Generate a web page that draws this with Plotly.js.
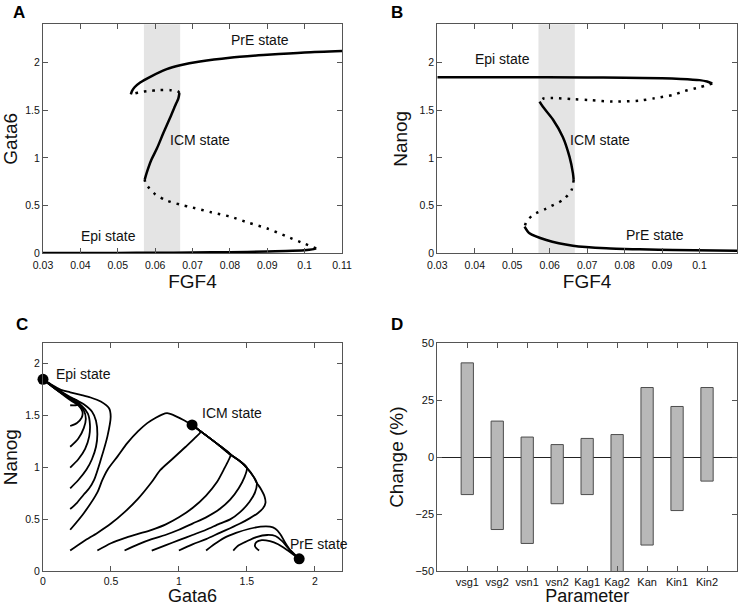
<!DOCTYPE html>
<html><head><meta charset="utf-8">
<script src="https://cdn.plot.ly/plotly-3.0.1.min.js"></script>
<style>html,body{margin:0;padding:0;background:#fff;}#chart{width:746px;height:606px;}</style>
</head><body><div id="chart"></div>
<script>
// ---------- Panel A: Gata6 vs FGF4 ----------
const A_epiX = [0.03, 0.04, 0.05, 0.06, 0.07, 0.08, 0.09, 0.095, 0.1, 0.102, 0.1031];
const A_epiY = [0.002, 0.003, 0.004, 0.006, 0.008, 0.012, 0.018, 0.024, 0.033, 0.041, 0.052];
const A_un1X = [0.1031, 0.1, 0.095, 0.09, 0.085, 0.08, 0.075, 0.07, 0.0667, 0.063, 0.06, 0.0585, 0.0575, 0.0572];
const A_un1Y = [0.052, 0.1, 0.18, 0.26, 0.32, 0.385, 0.43, 0.48, 0.51, 0.555, 0.62, 0.68, 0.73, 0.77];
const A_icmX = [0.0572, 0.0578, 0.059, 0.0605, 0.0622, 0.064, 0.0655, 0.0662, 0.0665];
const A_icmY = [0.77, 0.85, 0.98, 1.1, 1.26, 1.42, 1.56, 1.62, 1.68];
const A_un2X = [0.0665, 0.066, 0.064, 0.061, 0.058, 0.056, 0.0545, 0.0535];
const A_un2Y = [1.68, 1.70, 1.71, 1.71, 1.70, 1.69, 1.675, 1.665];
const A_preX = [0.0535, 0.0538, 0.0545, 0.056, 0.0587, 0.0631, 0.0667, 0.072, 0.08, 0.09, 0.1, 0.11];
const A_preY = [1.665, 1.70, 1.74, 1.79, 1.85, 1.93, 1.97, 2.01, 2.05, 2.08, 2.105, 2.12];

// ---------- Panel B: Nanog vs FGF4 ----------
const B_epiX = [0.03, 0.05, 0.07, 0.08, 0.09, 0.095, 0.1, 0.102, 0.1034];
const B_epiY = [1.845, 1.845, 1.843, 1.84, 1.835, 1.828, 1.815, 1.80, 1.78];
const B_un1X = [0.1034, 0.1, 0.096, 0.0929, 0.088, 0.084, 0.0769, 0.0707, 0.0662, 0.0609, 0.0582, 0.0573];
const B_un1Y = [1.78, 1.74, 1.70, 1.66, 1.625, 1.60, 1.59, 1.605, 1.615, 1.627, 1.62, 1.59];
const B_icmX = [0.0573, 0.0582, 0.0609, 0.0635, 0.0653, 0.0662, 0.0664];
const B_icmY = [1.59, 1.535, 1.40, 1.22, 1.01, 0.84, 0.77];
const B_un2X = [0.0664, 0.0658, 0.0635, 0.0591, 0.0555, 0.0538, 0.0533];
const B_un2Y = [0.77, 0.66, 0.56, 0.47, 0.40, 0.33, 0.28];
const B_preX = [0.0533, 0.0546, 0.0591, 0.0662, 0.0751, 0.084, 0.0929, 0.11];
const B_preY = [0.28, 0.21, 0.14, 0.08, 0.052, 0.042, 0.035, 0.028];

const shadedFGF = [0.057, 0.0667];
const fgfTicks = [0.03, 0.04, 0.05, 0.06, 0.07, 0.08, 0.09, 0.1, 0.11];
const fgfTickText = ['0.03', '0.04', '0.05', '0.06', '0.07', '0.08', '0.09', '0.1', '0.11'];
const levelTicks = [0, 0.5, 1, 1.5, 2];
const levelTickText = ['0', '0.5', '1', '1.5', '2'];

// ---------- Panel C: trajectories (Gata6, Nanog) ----------
const steadyX = [0, 1.097, 1.885];
const steadyY = [1.85, 1.411, 0.12];
const tE1x = [0.2, 0.25, 0.3, 0.34, 0.376, 0.425, 0.474, 0.498, 0.486, 0.425, 0.35, 0.278, 0.2, 0.132, 0.06, 0];
const tE1y = [0.6, 0.66, 0.74, 0.8, 0.881, 1.074, 1.30, 1.49, 1.572, 1.636, 1.675, 1.70, 1.725, 1.749, 1.8, 1.85];
const tE2x = [0.2, 0.26, 0.32, 0.36, 0.39, 0.4, 0.39, 0.36, 0.3, 0.2, 0.1, 0];
const tE2y = [0.8, 0.88, 0.98, 1.08, 1.2, 1.32, 1.45, 1.54, 1.61, 1.68, 1.76, 1.85];
const tE3x = [0.2, 0.26, 0.31, 0.34, 0.345, 0.33, 0.28, 0.2, 0.1, 0];
const tE3y = [1.0, 1.08, 1.18, 1.3, 1.42, 1.52, 1.6, 1.67, 1.76, 1.85];
const tE4x = [0.2, 0.26, 0.3, 0.315, 0.3, 0.26, 0.18, 0.09, 0];
const tE4y = [1.2, 1.28, 1.38, 1.47, 1.55, 1.61, 1.68, 1.76, 1.85];
const tE5x = [0.2, 0.25, 0.285, 0.29, 0.26, 0.2, 0.1, 0];
const tE5y = [1.4, 1.43, 1.48, 1.54, 1.6, 1.65, 1.75, 1.85];
const tE6x = [0.2, 0.24, 0.27, 0.25, 0.2, 0.1, 0];
const tE6y = [1.6, 1.6, 1.615, 1.645, 1.67, 1.75, 1.85];
const tBigx = [0.2, 0.3, 0.4, 0.437, 0.474, 0.55, 0.62, 0.7, 0.767, 0.83, 0.875, 0.913, 0.96, 1.03, 1.097];
const tBigy = [0.4, 0.56, 0.76, 0.881, 0.977, 1.11, 1.235, 1.35, 1.428, 1.48, 1.51, 1.524, 1.505, 1.46, 1.411];
const tM1x = [0.2, 0.3, 0.4, 0.5, 0.6, 0.7, 0.8, 0.864, 0.95, 1.05, 1.13, 1.157, 1.13, 1.097];
const tM1y = [0.2, 0.29, 0.37, 0.46, 0.57, 0.7, 0.86, 0.977, 1.08, 1.2, 1.3, 1.34, 1.38, 1.411];
const tM2x = [0.4, 0.5, 0.6, 0.7, 0.8, 0.9, 1.0, 1.1, 1.2, 1.28, 1.33, 1.365, 1.38, 1.3, 1.2, 1.097];
const tM2y = [0.2, 0.27, 0.32, 0.36, 0.4, 0.45, 0.52, 0.61, 0.73, 0.86, 0.98, 1.07, 1.125, 1.21, 1.31, 1.411];
const tM3x = [0.6, 0.7, 0.8, 0.9, 1.0, 1.1, 1.2, 1.3, 1.377, 1.44, 1.48, 1.5, 1.45, 1.38, 1.3, 1.2, 1.097];
const tM3y = [0.2, 0.26, 0.31, 0.35, 0.4, 0.46, 0.52, 0.6, 0.69, 0.8, 0.9, 0.997, 1.06, 1.125, 1.21, 1.31, 1.411];
const tM4x = [0.8, 0.9, 1.0, 1.1, 1.2, 1.3, 1.377, 1.45, 1.52, 1.56, 1.573, 1.55, 1.5, 1.45, 1.38, 1.3, 1.2, 1.097];
const tM4y = [0.2, 0.25, 0.3, 0.35, 0.4, 0.46, 0.5, 0.57, 0.67, 0.76, 0.852, 0.91, 0.997, 1.06, 1.125, 1.21, 1.31, 1.411];
const tM5x = [1.0, 1.1, 1.2, 1.3, 1.377, 1.45, 1.52, 1.58, 1.62, 1.637, 1.63, 1.6, 1.573, 1.55, 1.5, 1.45, 1.38, 1.3, 1.2, 1.097];
const tM5y = [0.2, 0.26, 0.31, 0.37, 0.415, 0.46, 0.51, 0.56, 0.61, 0.66, 0.72, 0.8, 0.852, 0.91, 0.997, 1.06, 1.125, 1.21, 1.31, 1.411];
const tP1x = [1.2, 1.26, 1.33, 1.42, 1.52, 1.6, 1.67, 1.71, 1.745, 1.78, 1.82, 1.885];
const tP1y = [0.2, 0.26, 0.32, 0.37, 0.41, 0.43, 0.43, 0.41, 0.36, 0.28, 0.2, 0.12];
const tP2x = [1.4, 1.44, 1.5, 1.57, 1.65, 1.71, 1.76, 1.8, 1.885];
const tP2y = [0.2, 0.25, 0.29, 0.33, 0.35, 0.34, 0.29, 0.23, 0.12];
const tP3x = [1.59, 1.56, 1.57, 1.61, 1.67, 1.73, 1.79, 1.885];
const tP3y = [0.2, 0.24, 0.28, 0.3, 0.29, 0.26, 0.21, 0.12];
const cTicks = [0, 0.5, 1, 1.5, 2];
const cTickText = ['0', '0.5', '1', '1.5', '2'];

// ---------- Panel D: parameter sensitivity ----------
const params = ['vsg1', 'vsg2', 'vsn1', 'vsn2', 'Kag1', 'Kag2', 'Kan', 'Kin1', 'Kin2'];
const changeHigh = [41.3, 15.8, 8.8, 5.5, 8.2, 9.9, 30.5, 22.2, 30.5];
const changeLow = [-16.4, -31.7, -37.8, -20.4, -16.4, -58, -38.5, -23.4, -10.5];
const dTicks = [-50, -25, 0, 25, 50];
const dTickText = ['\u221250', '\u221225', '0', '25', '50'];

// ---------- build ----------
const FONT = 'Liberation Sans, Arial, Helvetica, sans-serif';
const traces = [];
function curve(x, y, xa, ya, dotted, w) {
  traces.push({
    x: x, y: y, xaxis: xa, yaxis: ya, type: 'scatter', mode: 'lines',
    line: {color: '#000', width: w || 2.5, shape: 'spline', smoothing: 0.8, dash: dotted ? '2.5px,6px' : 'solid'},
    hoverinfo: 'skip', showlegend: false
  });
}
curve(A_epiX, A_epiY, 'x', 'y', false);
curve(A_un1X, A_un1Y, 'x', 'y', true);
curve(A_icmX, A_icmY, 'x', 'y', false);
curve(A_un2X, A_un2Y, 'x', 'y', true);
curve(A_preX, A_preY, 'x', 'y', false);
curve(B_epiX, B_epiY, 'x2', 'y2', false);
curve(B_un1X, B_un1Y, 'x2', 'y2', true);
curve(B_icmX, B_icmY, 'x2', 'y2', false);
curve(B_un2X, B_un2Y, 'x2', 'y2', true);
curve(B_preX, B_preY, 'x2', 'y2', false);

[[tE1x, tE1y], [tE2x, tE2y], [tE3x, tE3y], [tE4x, tE4y], [tE5x, tE5y], [tE6x, tE6y],
 [tBigx, tBigy], [tM1x, tM1y], [tM2x, tM2y], [tM3x, tM3y], [tM4x, tM4y], [tM5x, tM5y],
 [tP1x, tP1y], [tP2x, tP2y], [tP3x, tP3y]].forEach(function (t) { curve(t[0], t[1], 'x3', 'y3', false, 1.8); });
traces.push({x: steadyX, y: steadyY, xaxis: 'x3', yaxis: 'y3', type: 'scatter', mode: 'markers',
  marker: {color: '#000', size: 11}, hoverinfo: 'skip', showlegend: false, cliponaxis: false});

traces.push({
  type: 'bar', x: params, y: changeHigh.map(function (h, i) { return h - changeLow[i]; }), base: changeLow,
  xaxis: 'x4', yaxis: 'y4', width: 0.41,
  marker: {color: '#b8b8b8', line: {color: '#4d4d4d', width: 1}}, hoverinfo: 'skip', showlegend: false
});

const W = 746, H = 606;
const colL = [43 / W, 342 / W], colR = [437.3 / W, 737 / W];
const rowT = [1 - 253.3 / H, 1 - 24.3 / H], rowB = [1 - 571.3 / H, 1 - 343 / H];

function ax(extra) {
  return Object.assign({
    showgrid: false, zeroline: false, showline: true, mirror: 'ticks',
    linecolor: '#555', linewidth: 1, ticks: 'inside', ticklen: 5, tickcolor: '#555', tickwidth: 1,
    tickfont: {family: FONT, size: 10.5, color: '#111'}, fixedrange: true
  }, extra);
}
const titleFont = {family: FONT, size: 19, color: '#111'};

const shapes = [];
[['x', 'y'], ['x2', 'y2']].forEach(function (p) {
  shapes.push({type: 'rect', xref: p[0], yref: p[1] + ' domain', x0: shadedFGF[0], x1: shadedFGF[1], y0: 0, y1: 1,
    fillcolor: '#e4e4e4', line: {width: 0}, layer: 'below'});
});

const ann = [];
function lab(text, x, y, xr, yr, xanchor) {
  ann.push({text: text, x: x, y: y, xref: xr, yref: yr, showarrow: false, xanchor: xanchor || 'center', yanchor: 'middle',
    font: {family: FONT, size: 14, color: '#111'}});
}
lab('PrE state', 0.088, 2.24, 'x', 'y');
lab('ICM state', 0.0721, 1.19, 'x', 'y');
lab('Epi state', 0.0475, 0.185, 'x', 'y');
lab('Epi state', 0.0475, 2.035, 'x2', 'y2');
lab('ICM state', 0.0733, 1.187, 'x2', 'y2');
lab('PrE state', 0.088, 0.188, 'x2', 'y2');
lab('Epi state', 0.08, 1.9, 'x3', 'y3', 'left');
lab('ICM state', 1.155, 1.527, 'x3', 'y3', 'left');
lab('PrE state', 1.80, 0.267, 'x3', 'y3', 'left');
[['A', 18.5, 12.5], ['B', 397, 12.5], ['C', 22, 324.5], ['D', 397, 324.5]].forEach(function (l) {
  ann.push({text: '<b>' + l[0] + '</b>', x: l[1] / W, y: 1 - l[2] / H, xref: 'paper', yref: 'paper', showarrow: false,
    xanchor: 'center', yanchor: 'middle', font: {family: FONT, size: 17, color: '#000'}});
});

const layout = {
  width: W, height: H, margin: {l: 0, r: 0, t: 0, b: 0}, paper_bgcolor: '#fff', plot_bgcolor: '#fff',
  showlegend: false, font: {family: FONT},
  xaxis: ax({domain: colL, anchor: 'y', range: [0.03, 0.11], tickvals: fgfTicks, ticktext: fgfTickText,
    ticklabelstandoff: 2, title: {text: 'FGF4', font: titleFont, standoff: 1}}),
  yaxis: ax({domain: rowT, anchor: 'x', range: [0, 2.4], tickvals: levelTicks, ticktext: levelTickText,
    title: {text: 'Gata6', font: titleFont, standoff: 6}}),
  xaxis2: ax({domain: colR, anchor: 'y2', range: [0.03, 0.11], tickvals: fgfTicks, ticktext: fgfTickText,
    ticklabelstandoff: 2, title: {text: 'FGF4', font: titleFont, standoff: 1}}),
  yaxis2: ax({domain: rowT, anchor: 'x2', range: [0, 2.4], tickvals: levelTicks, ticktext: levelTickText,
    title: {text: 'Nanog', font: titleFont, standoff: 6}}),
  xaxis3: ax({domain: colL, anchor: 'y3', range: [0, 2.2], tickvals: cTicks, ticktext: cTickText,
    title: {text: 'Gata6', font: {family: FONT, size: 18, color: '#111'}, standoff: 6}}),
  yaxis3: ax({domain: rowB, anchor: 'x3', range: [0, 2.2], tickvals: cTicks, ticktext: cTickText,
    title: {text: 'Nanog', font: titleFont, standoff: 6}}),
  xaxis4: ax({domain: colR, anchor: 'y4', type: 'category', range: [-1, 9], tickfont: {family: FONT, size: 11, color: '#111'},
    title: {text: 'Parameter', font: {family: FONT, size: 18, color: '#111'}, standoff: 6}}),
  yaxis4: ax({domain: rowB, anchor: 'x4', range: [-50, 50], tickvals: dTicks, ticktext: dTickText,
    tickfont: {family: FONT, size: 11, color: '#111'},
    zeroline: true, zerolinecolor: '#222', zerolinewidth: 1, layer: 'above traces',
    title: {text: 'Change (%)', font: titleFont, standoff: 6}}),
  shapes: shapes, annotations: ann
};
Plotly.newPlot('chart', traces, layout, {staticPlot: true, displayModeBar: false});
</script>
</body></html>
